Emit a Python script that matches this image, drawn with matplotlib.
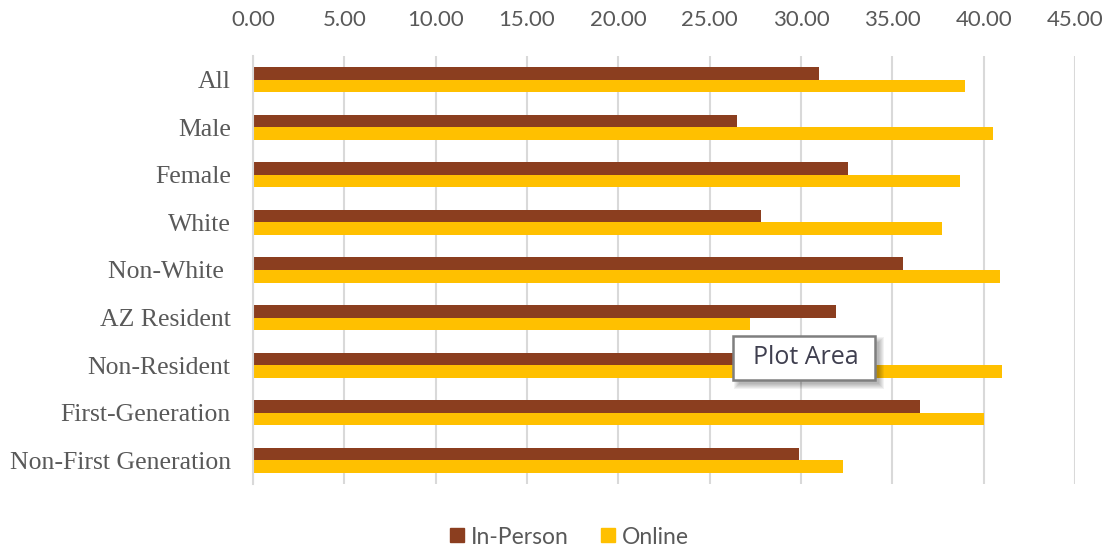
import matplotlib
matplotlib.use("Agg")
import matplotlib.pyplot as plt
from matplotlib.patches import Rectangle
from matplotlib.lines import Line2D
import numpy as np

categories = ["All", "Male", "Female", "White", "Non-White ", "AZ Resident",
              "Non-Resident", "First-Generation", "Non-First Generation"]
in_person = [31.0, 26.5, 32.6, 27.8, 35.6, 31.9, 29.5, 36.5, 29.9]
online = [39.0, 40.5, 38.7, 37.7, 40.9, 27.2, 41.0, 40.0, 32.3]
series_names = ["In-Person", "Online"]
x_ticks = [0, 5, 10, 15, 20, 25, 30, 35, 40, 45]

c_in = "#8B3E1F"
c_on = "#FFC000"
grid_c = "#D9D9D9"
text_c = "#595959"

W, H = 1105, 546
fig = plt.figure(figsize=(W / 100, H / 100), dpi=100)
ax = fig.add_axes([253 / W, 1 - 484 / H, (1075 - 253) / W, (484 - 56) / H])

y = np.arange(len(categories))
bh = 0.263
ax.barh(y - bh / 2, in_person, height=bh, color=c_in, zorder=3)
ax.barh(y + bh / 2, online, height=bh, color=c_on, zorder=3)

ax.set_ylim(len(categories) - 0.5, -0.5)
ax.set_xlim(0, 45)
ax.set_xticks(x_ticks)
ax.set_xticklabels([f"{v:.2f}" for v in x_ticks], fontfamily="Lato",
                   fontsize=16, color=text_c)
ax.xaxis.tick_top()
ax.tick_params(axis="x", length=0, pad=19)
ax.set_yticks(y)
ax.set_yticklabels(categories, fontfamily="Liberation Serif", fontsize=18.5,
                   color=text_c)
ax.tick_params(axis="y", length=0, pad=16)

ax.grid(axis="x", color=grid_c, linewidth=1.5, zorder=0)
for s in ["top", "right", "bottom"]:
    ax.spines[s].set_visible(False)
ax.spines["left"].set_color(grid_c)
ax.spines["left"].set_linewidth(1.5)
ax.spines["left"].set_zorder(4)

handles = [Line2D([], [], marker="s", linestyle="none", markersize=9.5,
                  markerfacecolor=c, markeredgecolor=c)
           for c in (c_in, c_on)]
fig.legend(handles, series_names, loc="center", bbox_to_anchor=(0.5145, 1 - 537 / H),
           ncol=2, frameon=False, prop={"family": "Lato", "size": 16.5},
           labelcolor=text_c, handletextpad=0.2, columnspacing=1.3,
           handlelength=0.8)


# "Plot Area" hover tag with soft shadow
def px_rect(x0, y0, x1, y1, **kw):
    r = Rectangle((x0 / W, 1 - y1 / H), (x1 - x0) / W, (y1 - y0) / H,
                  transform=fig.transFigure, **kw)
    fig.patches.append(r)
    return r


bx0, by0, bx1, by1 = 733, 336, 875, 380
for k in range(6, 0, -1):
    px_rect(bx0 + 7 - k, by0 + 7 - k, bx1 + 3 + k, by1 + 3 + k,
            facecolor="#000000", edgecolor="none", alpha=0.05, zorder=8)
px_rect(bx0, by0, bx1, by1, facecolor="white", edgecolor="#7F7F7F",
        linewidth=1.8, zorder=9)
fig.text((bx0 + bx1) / 2 / W + 0.0015, 1 - (by0 + by1) / 2 / H, "Plot Area",
         ha="center", va="center", fontfamily="Open Sans", fontsize=18,
         color="#3F3F4F", zorder=10)

fig.savefig("out.png", dpi=100)
